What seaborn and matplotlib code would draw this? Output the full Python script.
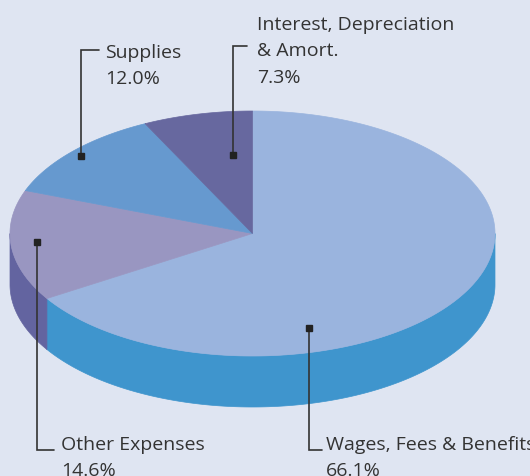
"""3D-style pie chart of expense shares with leader-line labels."""

import matplotlib

matplotlib.use("Agg")
import matplotlib.pyplot as plt
import numpy as np
import seaborn as sns
from matplotlib.patches import Polygon

# --- data ---
categories = ["Wages, Fees & Benefits", "Other Expenses", "Supplies",
              "Interest, Depreciation\n& Amort."]
shares = [66.1, 14.6, 12.0, 7.3]
pct_labels = ["66.1%", "14.6%", "12.0%", "7.3%"]

top_colors = ["#9ab4de", "#9996c1", "#6699cf", "#67689f"]
side_colors = ["#3f95cd", "#6364a0", "#4f80b8", "#55588c"]

BG = "#dfe5f2"
TXT = "#333333"

sns.set_theme(style="white")
plt.rcParams["font.family"] = ["Open Sans", "DejaVu Sans"]

# pie geometry in pixel units
CX, CY, A, B, DEPTH = 252.5, 234.5, 242.5, 122.5, 51
LINE_GAP = 26.5


def arc(t0, t1, dy=0.0, n=200):
    t = np.radians(np.linspace(t0, t1, n))
    return np.column_stack([CX + A * np.cos(t), CY - B * np.sin(t) + dy])


fig = plt.figure(figsize=(5.30, 4.77), dpi=100, facecolor=BG)
ax = fig.add_axes([0, 0, 1, 1])
ax.set_facecolor(BG)
ax.set_xlim(0, 530)
ax.set_ylim(477, 0)
ax.axis("off")

# slice angles: start at 12 o'clock, go clockwise
cum = np.concatenate([[0], np.cumsum(shares)]) / sum(shares) * 360
starts = 90 - cum[:-1]
ends = 90 - cum[1:]

# side walls (front half only)
for s, e, c in zip(starts, ends, side_colors):
    hi, lo = min(s, 0), max(e, -180)
    if hi <= lo:
        continue
    top = arc(hi, lo)
    bot = arc(lo, hi, dy=DEPTH)
    ax.add_patch(Polygon(np.vstack([top, bot]), closed=True, facecolor=c,
                         edgecolor=c, lw=0.5))

# top faces
for s, e, c in zip(starts, ends, top_colors):
    pts = np.vstack([[CX, CY], arc(s, e)])
    ax.add_patch(Polygon(pts, closed=True, facecolor=c, edgecolor=c, lw=0.5))

# leader lines: anchor on slice, elbow, end of tick, first text baseline
leaders = [
    dict(anchor=(309, 329), elbow=(309, 451), end=(322, 451), text=(326, 450)),
    dict(anchor=(37, 243), elbow=(37, 451), end=(54, 451), text=(61, 450)),
    dict(anchor=(81, 157), elbow=(81, 51), end=(99, 51), text=(105, 58)),
    dict(anchor=(233, 156), elbow=(233, 47), end=(247, 47), text=(257, 30)),
]

for cat, pct, ld in zip(categories, pct_labels, leaders):
    xs = [ld["anchor"][0], ld["elbow"][0], ld["end"][0]]
    ys = [ld["anchor"][1], ld["elbow"][1], ld["end"][1]]
    ax.plot(xs, ys, color=TXT, lw=1.2, solid_joinstyle="miter")
    ax.plot(*ld["anchor"], marker="s", ms=4.5, color="#222222")
    lines = cat.split("\n") + [pct]
    for i, line in enumerate(lines):
        ax.text(ld["text"][0], ld["text"][1] + i * LINE_GAP, line, color=TXT,
                fontsize=14, va="baseline", ha="left")

fig.savefig("out.png", dpi=100, facecolor=BG)
